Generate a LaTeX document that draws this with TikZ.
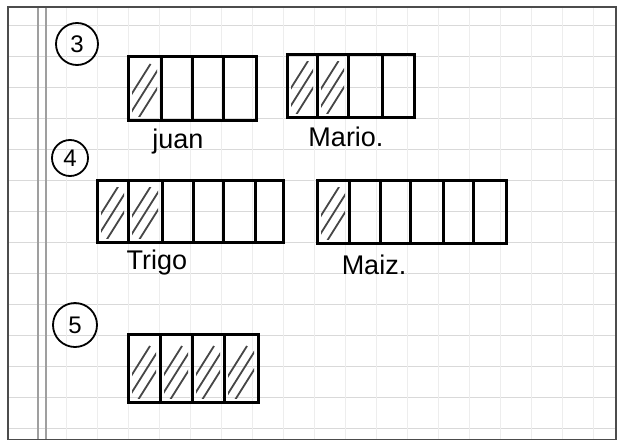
\documentclass[tikz,border=0pt]{standalone}
\usepackage{fontspec}
\setmainfont{Liberation Sans}
\usetikzlibrary{calc}

\tikzset{
  gridline/.style={gray!30, line width=1pt},
  marginline/.style={gray!75, line width=1.4pt},
  barline/.style={black, line width=3pt},
  hatch/.style={gray!55!black, line width=1.8pt},
  num/.style={circle, draw, line width=1.8pt, inner sep=0pt, font=\fontsize{24}{24}\selectfont},
  lbl/.style={font=\fontsize{27}{28}\selectfont}
}

% hatching of one cell: x0, y0 (top), x1, y1 (bottom)
\newcommand\rayado[4]{%
  \begin{scope}
    \clip (#1+4,#2+7) rectangle (#3-4,#4-4);
    \foreach \k in {-1,...,1}
      \draw[hatch] ({(#1+#3)/2-17+11*\k},{#4-2}) -- ++(34,-54);
  \end{scope}}

\begin{document}
\begin{tikzpicture}[x=1pt,y=-1pt]
\useasboundingbox (0,0) rectangle (620,439);
\fill[white] (0,0) rectangle (620,439);

% notebook grid
\foreach \y in {25,56,...,430}
  \draw[gridline] (8,\y) -- (616,\y);
\foreach \x in {66,97,...,600}
  \draw[gridline, gray!14] (\x,7) -- (\x,439);
\draw[marginline] (38,7) -- (38,439);
\draw[marginline] (46,7) -- (46,439);
\draw[gray!60!black, line width=1.2pt] (8,7) rectangle (616,440);

% 3
\node[num, minimum size=42pt] (n3) at (77,44) {3};
\rayado{128}{56}{161}{120}
\foreach \a in {161,192,223}
  \draw[barline] (\a,56) -- (\a,120);
\draw[barline] (128,56) rectangle (256,120);
\node[lbl] (juan) at (178,142) {juan};

\rayado{287}{54}{317}{117}
\rayado{317}{54}{348}{117}
\foreach \a in {317,348,382}
  \draw[barline] (\a,54) -- (\a,117);
\draw[barline] (287,54) rectangle (414,117);
\node[lbl] (mario) at (346,137) {Mario.};

% 4
\node[num, minimum size=36pt] (n4) at (70,158) {4};
\rayado{97}{180}{128}{242}
\rayado{128}{180}{162}{242}
\foreach \a in {128,162,193,223,255}
  \draw[barline] (\a,180) -- (\a,242);
\draw[barline] (97,180) rectangle (283,242);
\node[lbl] (trigo) at (157,263) {Trigo};

\rayado{317}{180}{349}{243}
\foreach \a in {349,380,410,443,473}
  \draw[barline] (\a,180) -- (\a,243);
\draw[barline] (317,180) rectangle (506,243);
\node[lbl] (maiz) at (374,265) {Maiz.};

% 5
\node[num, minimum size=44pt] (n5) at (75,325) {5};
\rayado{128}{334}{160}{402}
\rayado{160}{334}{192}{402}
\rayado{192}{334}{224}{402}
\rayado{224}{334}{258}{402}
\foreach \a in {160,192,224}
  \draw[barline] (\a,334) -- (\a,402);
\draw[barline] (128,334) rectangle (258,402);
\end{tikzpicture}
\end{document}
